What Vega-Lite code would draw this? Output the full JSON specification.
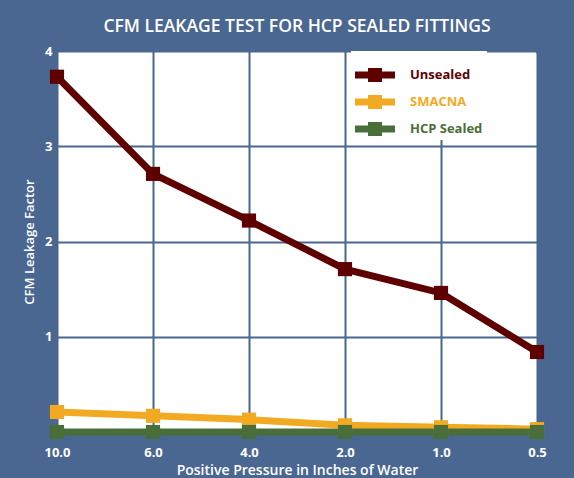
{
  "$schema": "https://vega.github.io/schema/vega-lite/v6.json",
  "width": 480,
  "height": 381,
  "autosize": {"type": "none"},
  "padding": {"left": 57, "top": 51, "right": 37, "bottom": 46},
  "background": "#4a6791",
  "title": {
    "text": "CFM LEAKAGE TEST FOR HCP SEALED FITTINGS",
    "color": "white",
    "font": "Open Sans",
    "fontSize": 17.5,
    "fontWeight": 600,
    "anchor": "middle",
    "offset": 10
  },
  "config": {
    "view": {"fill": "white", "stroke": null, "cornerRadius": 4},
    "axis": {
      "gridColor": "#4a6791",
      "gridWidth": 2,
      "gridOpacity": 1,
      "domain": false,
      "ticks": false,
      "labelColor": "white",
      "labelFont": "Open Sans",
      "labelFontSize": 13,
      "labelFontWeight": "bold",
      "titleColor": "white",
      "titleFont": "Open Sans",
      "titleFontSize": 14,
      "titleFontWeight": 600
    }
  },
  "data": {
    "values": [
      {"pressure": "10.0", "series": "Unsealed", "value": 3.73},
      {"pressure": "6.0", "series": "Unsealed", "value": 2.71},
      {"pressure": "4.0", "series": "Unsealed", "value": 2.22},
      {"pressure": "2.0", "series": "Unsealed", "value": 1.71},
      {"pressure": "1.0", "series": "Unsealed", "value": 1.46},
      {"pressure": "0.5", "series": "Unsealed", "value": 0.84},
      {"pressure": "10.0", "series": "SMACNA", "value": 0.21},
      {"pressure": "6.0", "series": "SMACNA", "value": 0.17},
      {"pressure": "4.0", "series": "SMACNA", "value": 0.13},
      {"pressure": "2.0", "series": "SMACNA", "value": 0.07},
      {"pressure": "1.0", "series": "SMACNA", "value": 0.05},
      {"pressure": "0.5", "series": "SMACNA", "value": 0.03},
      {"pressure": "10.0", "series": "HCP Sealed", "value": 0},
      {"pressure": "6.0", "series": "HCP Sealed", "value": 0},
      {"pressure": "4.0", "series": "HCP Sealed", "value": 0},
      {"pressure": "2.0", "series": "HCP Sealed", "value": 0},
      {"pressure": "1.0", "series": "HCP Sealed", "value": 0},
      {"pressure": "0.5", "series": "HCP Sealed", "value": 0}
    ]
  },
  "encoding": {
    "x": {
      "field": "pressure",
      "type": "ordinal",
      "sort": ["10.0", "6.0", "4.0", "2.0", "1.0", "0.5"],
      "scale": {"type": "point", "padding": 0},
      "axis": {"labelAngle": 0, "grid": true, "labelPadding": 14, "title": "Positive Pressure in Inches of Water", "titlePadding": 4}
    },
    "y": {
      "field": "value",
      "type": "quantitative",
      "scale": {"domain": [0, 4], "nice": false},
      "axis": {"values": [1, 2, 3, 4], "grid": true, "labelPadding": 5, "title": "CFM Leakage Factor", "titleFontSize": 13, "titlePadding": 8}
    },
    "color": {
      "field": "series",
      "type": "nominal",
      "scale": {"domain": ["Unsealed", "SMACNA", "HCP Sealed"], "range": ["#5e0000", "#f2aa22", "#4a6e3a"]},
      "legend": {
        "title": null,
        "orient": "none",
        "legendX": 294,
        "legendY": 0,
        "fillColor": "white",
        "padding": 4,
        "rowPadding": 0,
        "labelOffset": 15,
        "labelFont": "Open Sans",
        "labelFontSize": 13,
        "labelFontWeight": "bold",
        "symbolType": "M -1 -0.18 H -0.35 V -0.35 H 0.35 V -0.18 H 1 V 0.18 H 0.35 V 0.35 H -0.35 V 0.18 H -1 Z",
        "symbolSize": 1600,
        "symbolStrokeWidth": 0,
        "encode": {
          "labels": {"update": {"fill": {"scale": "color", "field": "value"}}},
          "symbols": {"update": {"fill": {"scale": "color", "field": "value"}, "stroke": {"value": "transparent"}, "opacity": {"value": 1}}}
        }
      }
    }
  },
  "layer": [
    {"mark": {"type": "line", "strokeWidth": 7, "clip": false}},
    {"mark": {"type": "point", "shape": "square", "size": 200, "filled": true, "opacity": 1, "clip": false}}
  ]
}
